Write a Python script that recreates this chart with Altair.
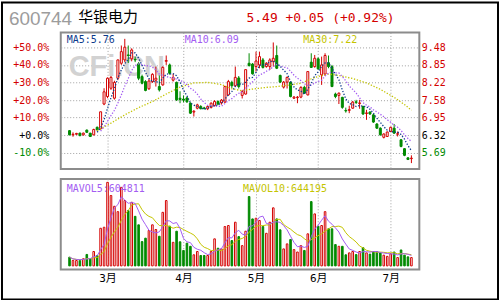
import json
import altair as alt
import pandas as pd

# ---------------- data ----------------
opens = [6.48, 6.33, 6.35, 6.39, 6.33, 6.50, 6.39, 6.33, 6.60, 6.55,
         7.44, 7.71, 8.01, 7.65, 8.37, 8.91, 9.03, 9.21, 9.07, 9.05,
         8.89, 8.43, 8.25, 7.99, 8.25, 8.30, 8.07, 8.13, 8.98, 8.85,
         8.30, 8.22, 7.65, 7.62, 7.66, 7.47, 7.15, 7.29, 7.35, 7.30,
         7.27, 7.32, 7.39, 7.53, 7.48, 7.51, 7.77, 8.22, 8.10, 8.38,
         7.75, 7.80, 8.91, 8.88, 8.79, 8.85, 9.03, 8.79, 8.79, 8.97,
         9.19, 8.47, 8.05, 8.23, 8.23, 7.65, 7.67, 7.69, 8.04, 7.77,
         8.95, 8.79, 9.07, 8.49, 8.52, 8.93, 8.79, 7.80, 7.75, 7.68,
         7.21, 7.21, 7.29, 7.52, 7.46, 7.35, 7.10, 7.15, 7.05, 6.72,
         6.57, 6.24, 6.27, 6.45, 6.57, 6.35, 6.15, 5.83, 5.50, 5.47]
highs = [6.50, 6.42, 6.40, 6.41, 6.41, 6.52, 6.40, 6.55, 6.63, 7.16,
         8.01, 8.40, 8.45, 8.28, 9.04, 9.55, 9.79, 9.55, 9.45, 9.15,
         8.95, 8.50, 8.30, 8.35, 8.55, 8.79, 8.47, 8.80, 9.19, 8.90,
         8.53, 8.25, 7.90, 7.75, 7.70, 7.50, 7.22, 7.45, 7.40, 7.34,
         7.38, 7.50, 7.58, 7.57, 7.62, 8.10, 8.31, 8.28, 8.79, 8.45,
         7.95, 8.68, 9.27, 8.92, 9.33, 9.33, 9.10, 8.95, 9.09, 9.66,
         9.55, 8.50, 8.27, 8.43, 8.25, 7.73, 7.73, 8.08, 8.10, 8.61,
         9.27, 9.21, 9.12, 9.15, 9.27, 9.19, 8.85, 7.85, 7.86, 7.70,
         7.31, 7.38, 7.55, 7.59, 7.59, 7.38, 7.23, 7.18, 7.08, 6.75,
         6.60, 6.38, 6.45, 6.62, 6.72, 6.45, 6.18, 5.85, 5.52, 5.59]
lows = [6.31, 6.26, 6.32, 6.28, 6.30, 6.40, 6.25, 6.31, 6.49, 6.52,
        7.40, 7.65, 7.95, 7.60, 8.30, 8.85, 8.95, 8.92, 8.98, 8.95,
        8.30, 8.15, 7.90, 7.95, 8.20, 8.07, 7.89, 8.10, 8.85, 8.50,
        8.25, 7.55, 7.47, 7.50, 7.48, 7.08, 6.99, 7.25, 7.25, 7.24,
        7.22, 7.28, 7.35, 7.40, 7.42, 7.48, 7.74, 8.02, 8.05, 8.00,
        7.64, 7.78, 8.79, 8.50, 8.61, 8.73, 8.72, 8.75, 8.67, 8.79,
        8.70, 8.20, 8.00, 8.00, 7.68, 7.62, 7.47, 7.65, 7.80, 7.75,
        8.74, 8.75, 8.68, 8.13, 8.45, 8.73, 8.05, 7.65, 7.44, 7.27,
        7.13, 7.11, 7.27, 7.44, 7.27, 7.05, 6.87, 7.05, 6.76, 6.54,
        6.30, 6.20, 6.25, 6.43, 6.36, 6.27, 5.88, 5.56, 5.42, 5.31]
closes = [6.33, 6.35, 6.38, 6.30, 6.39, 6.42, 6.27, 6.52, 6.51, 7.16,
          7.88, 8.37, 8.40, 8.22, 9.03, 9.33, 9.49, 9.19, 9.39, 9.03,
          8.37, 8.19, 7.93, 8.27, 8.51, 8.37, 7.95, 8.76, 9.01, 8.55,
          8.40, 7.59, 7.60, 7.58, 7.52, 7.11, 7.18, 7.41, 7.27, 7.28,
          7.35, 7.47, 7.53, 7.44, 7.58, 8.07, 8.25, 8.10, 8.40, 8.07,
          7.89, 8.68, 8.83, 8.53, 8.99, 9.15, 8.76, 8.91, 9.03, 9.09,
          8.73, 8.23, 8.23, 8.40, 7.71, 7.69, 7.69, 8.04, 7.83, 8.61,
          8.76, 9.09, 8.71, 8.85, 9.19, 8.79, 8.07, 7.71, 7.83, 7.32,
          7.19, 7.24, 7.51, 7.50, 7.48, 7.08, 7.12, 7.08, 6.79, 6.57,
          6.33, 6.36, 6.43, 6.60, 6.39, 6.37, 5.91, 5.59, 5.44, 5.49]
volumes = [500000, 310000, 310000, 310000, 410000, 660000, 410000, 830000, 600000, 2170000,
           2230000, 4820000, 4060000, 3440000, 3130000, 4530000, 3770000, 3190000, 3670000, 2860000,
           2370000, 1400000, 1600000, 2040000, 2370000, 2100000, 1710000, 3090000, 3770000, 2290000,
           1360000, 2000000, 1390000, 890000, 1310000, 1130000, 640000, 830000, 600000, 600000,
           600000, 830000, 1560000, 1020000, 980000, 2270000, 2330000, 1460000, 2520000, 1690000,
           1170000, 2000000, 4000000, 2710000, 2750000, 2620000, 2270000, 1880000, 2520000, 3350000,
           2710000, 2080000, 980000, 1270000, 1520000, 940000, 800000, 1170000, 890000, 1850000,
           3710000, 3000000, 2290000, 2330000, 3130000, 2140000, 2140000, 1230000, 1130000, 1130000,
           640000, 750000, 830000, 650000, 830000, 1050000, 750000, 680000, 830000, 830000,
           750000, 620000, 550000, 700000, 800000, 480000, 920000, 620000, 520000, 480000]
ma30_idx = [8, 12, 16, 20, 24, 28, 32, 36, 40, 44, 47, 50, 53, 57, 60, 64, 67, 71,
            75, 78, 82, 86, 90, 94, 97, 99]
ma30_val = [6.48, 6.75, 7.05, 7.31, 7.53, 7.80, 8.05, 8.20, 8.22, 8.14, 7.99, 7.92, 7.98,
            8.04, 8.07, 8.13, 8.19, 8.40, 8.52, 8.47, 8.36, 8.20, 7.97, 7.68, 7.42, 7.22]
month_idx = [11, 33, 54, 72, 93]
month_labels = ["3月", "4月", "5月", "6月", "7月"]
pct_levels = [-10, 0, 10, 20, 30, 40, 50]
base_price = 6.32
vol_ticks = [500000, 1500000, 2500000, 3500000, 4500000]

# ---------------- styles ----------------
RED = "#d40000"
GREEN = "#008a00"
MA5_C = "#0b3a8c"
MA10_C = "#a35cf2"
MA30_C = "#c4c400"
GRID = "#a0a0a0"
BORDER = "#8c8c8c"
MONO = "DejaVu Sans Mono"
W, H1, H2 = 360, 137, 91

df = pd.DataFrame({"i": list(range(len(closes))), "open": opens, "high": highs,
                   "low": lows, "close": closes, "volume": volumes})
ma30_df = pd.DataFrame({"i": ma30_idx, "ma30": ma30_val})
price_ticks = [round(base_price * (1 + p / 100), 4) for p in pct_levels]

dir_scale = alt.Scale(domain=["up", "down"], range=[RED, GREEN])
x_scale = alt.Scale(domain=[-1.1, 99.85], nice=False, zero=False)
y_scale = alt.Scale(domain=[5.10, 10.02], nice=False, zero=False)
vol_scale = alt.Scale(domain=[-210000, 5020000], nice=False, zero=False)

base = alt.Chart(df).transform_calculate(dir="datum.close >= datum.open ? 'up' : 'down'")

x_price = alt.X("i:Q", scale=x_scale,
                axis=alt.Axis(values=month_idx, labels=False, ticks=False, domain=False,
                              grid=True, gridColor=GRID, gridDash=[1, 2], title=None))

label_color = {"condition": [{"test": f"datum.value > {base_price + 0.01}", "value": RED},
                             {"test": f"datum.value < {base_price - 0.01}", "value": GREEN}],
               "value": "#000000"}
pct_expr = (f"(datum.value < {base_price - 0.01} ? '-' : '+') + "
            f"format(abs(datum.value / {base_price} - 1) * 100, '.1f') + '%'")
left_axis = alt.Axis(orient="left", values=price_ticks, labelExpr=pct_expr, labelColor=label_color,
                     grid=True, gridColor=GRID, gridDash=[1, 2], ticks=False, domain=False,
                     labelPadding=12, title=None, labelFlush=False, labelOverlap=False)
right_axis = alt.Axis(orient="right", values=price_ticks, format=".2f", labelColor=label_color,
                      grid=False, ticks=False, domain=False, labelPadding=2, title=None,
                      labelFlush=False, labelOverlap=False)


def label(txt, x, y, color, size, font=MONO, weight="normal"):
    return alt.Chart(pd.DataFrame({"k": [0]})).mark_text(
        align="left", baseline="alphabetic", font=font, fontSize=size,
        fontWeight=weight, color=color).encode(
        x=alt.value(x), y=alt.value(y), text=alt.value(txt))


watermark = label("CFi.CN", 8, 44, "#d2d2d2", 29, font="Liberation Sans", weight="bold")

wick = base.mark_rule(strokeWidth=1).encode(
    x=x_price, y=alt.Y("low:Q", scale=y_scale, axis=left_axis), y2="high:Q",
    color=alt.Color("dir:N", scale=dir_scale, legend=None))
body = base.mark_bar(size=2, strokeWidth=1).encode(
    x=x_price, y=alt.Y("open:Q", scale=y_scale, axis=right_axis), y2="close:Q",
    stroke=alt.Stroke("dir:N", scale=dir_scale, legend=None),
    fill=alt.condition("datum.close >= datum.open", alt.value("#ffffff"), alt.value(GREEN)))
ma5 = base.transform_window(ma5="mean(close)", frame=[-4, 0], sort=[alt.SortField("i")]).transform_filter(
    "datum.i >= 8").mark_line(color=MA5_C, strokeWidth=1.3, strokeDash=[1.3, 1.7]).encode(
    x=x_price, y=alt.Y("ma5:Q", scale=y_scale, axis=None))
ma10 = base.transform_window(ma10="mean(close)", frame=[-9, 0], sort=[alt.SortField("i")]).transform_filter(
    "datum.i >= 9").mark_line(color=MA10_C, strokeWidth=1.3, strokeDash=[1.3, 1.7]).encode(
    x=x_price, y=alt.Y("ma10:Q", scale=y_scale, axis=None))
ma30 = alt.Chart(ma30_df).mark_line(color=MA30_C, strokeWidth=1.3, strokeDash=[1.3, 1.7]).encode(
    x=x_price, y=alt.Y("ma30:Q", scale=y_scale, axis=None))

header = [
    label("600744", -52, -8, "#9c9c9c", 19, font="Liberation Sans"),
    label("华银电力", 17.5, -10.5, "#000000", 15, font="Noto Sans CJK SC"),
    label("5.49 +0.05 (+0.92%)", 186.5, -11, RED, 13),
    label("MA5:5.76", 6, 11, MA5_C, 10),
    label("MA10:6.09", 124.5, 11, MA10_C, 10),
    label("MA30:7.22", 243.5, 11, MA30_C, 10),
]
outer = alt.Chart(pd.DataFrame({"k": [0]})).mark_rect(
    stroke="#000000", strokeWidth=2, fillOpacity=0).encode(
    x=alt.value(-59), x2=alt.value(439), y=alt.value(-30), y2=alt.value(268))

price = alt.layer(watermark, wick, body, ma30, ma10, ma5, *header, outer).resolve_axis(
    y="independent").properties(width=W, height=H1)

month_expr = (f"{json.dumps(month_labels, ensure_ascii=False)}"
              f"[indexof({json.dumps(month_idx)}, datum.value)]")
x_vol = alt.X("i:Q", scale=x_scale,
              axis=alt.Axis(values=month_idx, labelExpr=month_expr, grid=True, gridColor=GRID,
                            gridDash=[1, 2], ticks=False, domain=False, labelPadding=3, title=None,
                            labelFont=MONO + ", Noto Sans CJK SC", labelFontSize=11,
                            labelColor="#000000", labelFlush=False, labelOverlap=False,
                            labelAngle=0))
vol_axis = alt.Axis(orient="right", values=vol_ticks, format="d", grid=True, gridColor=GRID,
                    gridDash=[1, 2], ticks=False, domain=False, labelPadding=3, title=None,
                    labelColor="#000000", labelFlush=False, labelOverlap=False)
vbars = base.mark_bar(size=1.6, strokeWidth=1).encode(
    x=x_vol, y=alt.Y("volume:Q", scale=vol_scale, axis=vol_axis), y2=alt.value(H2),
    stroke=alt.Stroke("dir:N", scale=dir_scale, legend=None),
    fill=alt.condition("datum.close >= datum.open", alt.value("#ffffff"), alt.value(GREEN)))
mv5 = base.transform_window(mv5="mean(volume)", frame=[-4, 0], sort=[alt.SortField("i")]).mark_line(
    color=MA10_C, strokeWidth=1).encode(x=x_vol, y=alt.Y("mv5:Q", scale=vol_scale, axis=None))
mv10 = base.transform_window(mv10="mean(volume)", frame=[-9, 0], sort=[alt.SortField("i")]).mark_line(
    color=MA30_C, strokeWidth=1).encode(x=x_vol, y=alt.Y("mv10:Q", scale=vol_scale, axis=None))
vol_labels = [
    label("MAVOL5:604811", 6, 12.7, MA10_C, 10),
    label("MAVOL10:644195", 183, 12.7, MA30_C, 10),
]
volume = alt.layer(vbars, mv10, mv5, *vol_labels).properties(width=W, height=H2)

chart = alt.vconcat(price, volume, spacing=10, bounds="flush", padding=0).configure(
    background="#ffffff").configure_view(stroke=BORDER, strokeWidth=2).configure_axis(
    labelFont=MONO, labelFontSize=10)

chart.save("out.html", embed_options={"renderer": "svg", "actions": False})
